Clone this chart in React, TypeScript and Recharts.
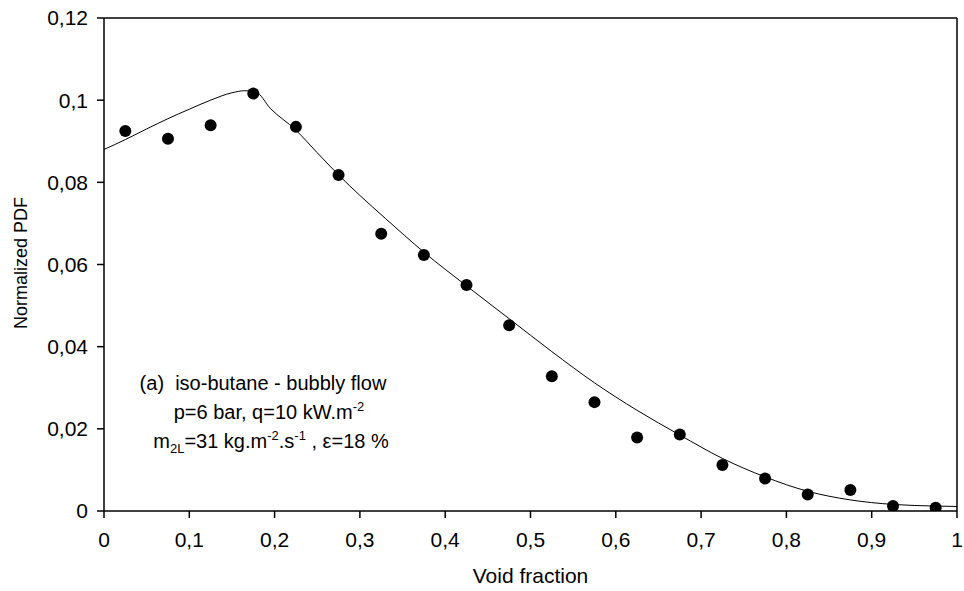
import React from 'react';
import {
  ComposedChart,
  Line,
  Scatter,
  XAxis,
  YAxis,
  ReferenceLine,
} from 'recharts';

// measured points
const pointX = [0.025, 0.075, 0.125, 0.175, 0.225, 0.275, 0.325, 0.375, 0.425, 0.475, 0.525, 0.575, 0.625, 0.675, 0.725, 0.775, 0.825, 0.875, 0.925, 0.975];
const pointY = [0.0925, 0.0906, 0.0939, 0.1016, 0.0935, 0.0818, 0.0675, 0.0623, 0.055, 0.0452, 0.0328, 0.0265, 0.0179, 0.0186, 0.0112, 0.0079, 0.004, 0.0051, 0.0012, 0.0008];

// fitted curve
const curveX = [0, 0.025, 0.05, 0.075, 0.1, 0.125, 0.15, 0.165, 0.178, 0.195, 0.225, 0.25, 0.275, 0.3, 0.33, 0.375, 0.425, 0.475, 0.525, 0.575, 0.625, 0.675, 0.725, 0.775, 0.825, 0.875, 0.925, 0.975, 1];
const curveY = [0.088, 0.0904, 0.093, 0.0955, 0.0978, 0.1, 0.1018, 0.1023, 0.102, 0.098, 0.0927, 0.0872, 0.0818, 0.0768, 0.0712, 0.063, 0.0548, 0.0468, 0.0388, 0.0312, 0.0245, 0.0185, 0.0128, 0.0083, 0.0048, 0.0027, 0.0016, 0.0012, 0.0011];

const xTicks = [0, 0.1, 0.2, 0.3, 0.4, 0.5, 0.6, 0.7, 0.8, 0.9, 1];
const yTicks = [0, 0.02, 0.04, 0.06, 0.08, 0.1, 0.12];

const points = pointX.map((x, i) => ({ x, y: pointY[i] }));
const curve = curveX.map((x, i) => ({ x, y: curveY[i] }));

const FONT = 'Arial, "Liberation Sans", sans-serif';
const fmt = (v: number) => String(v).replace('.', ',');
const small = { fontSize: 13, lineHeight: 0 };

export default function App() {
  return (
    <div style={{ position: 'absolute', left: 0, top: 0, width: 964, height: 591, background: '#fff', fontFamily: FONT }}>
      <ComposedChart
        width={964}
        height={591}
        margin={{ top: 18, right: 7, bottom: 0, left: 0 }}
        style={{ fontFamily: FONT }}
      >
        <XAxis
          dataKey="x"
          type="number"
          domain={[0, 1]}
          ticks={xTicks}
          tickFormatter={fmt}
          height={80}
          stroke="#000"
          strokeWidth={1.5}
          tickSize={7}
          tickMargin={14}
          tick={{ fill: '#000', fontSize: 21 }}
          allowDataOverflow
          label={{ value: 'Void fraction', position: 'insideBottom', offset: 8, fill: '#000', fontSize: 21 }}
        />
        <YAxis
          dataKey="y"
          type="number"
          domain={[0, 0.12]}
          ticks={yTicks}
          tickFormatter={fmt}
          width={104}
          stroke="#000"
          strokeWidth={1.5}
          tickSize={7}
          tickMargin={9}
          tick={{ fill: '#000', fontSize: 21 }}
          allowDataOverflow
          label={{
            content: () => (
              <text x={21} y={263} transform="rotate(-90 21 263)" textAnchor="middle" dominantBaseline="central" fill="#000" fontSize={18} fontFamily={FONT}>
                Normalized PDF
              </text>
            ),
          }}
        />
        <ReferenceLine y={0.12} stroke="#000" strokeWidth={1.5} />
        <ReferenceLine x={1} stroke="#000" strokeWidth={1.5} />
        <Line
          data={curve}
          dataKey="y"
          type="monotone"
          stroke="#000"
          strokeWidth={1}
          dot={false}
          activeDot={false}
          isAnimationActive={false}
        />
        <Scatter
          data={points}
          dataKey="y"
          fill="#000"
          isAnimationActive={false}
          shape={(p: any) => <circle cx={p.cx} cy={p.cy} r={6} fill="#000" />}
        />
      </ComposedChart>
      <div
        style={{
          position: 'absolute',
          left: 128,
          top: 369,
          width: 270,
          textAlign: 'center',
          fontSize: 20,
          lineHeight: '29px',
          color: '#000',
          whiteSpace: 'nowrap',
        }}
      >
        <div>(a)&nbsp; iso-butane - bubbly flow</div>
        <div style={{ paddingLeft: 12 }}>p=6 bar, q=10 kW.m<sup style={small}>-2</sup></div>
        <div style={{ paddingLeft: 16 }}>
          m<sub style={small}>2L</sub>=31 kg.m<sup style={small}>-2</sup>.s<sup style={small}>-1</sup> , ε=18 %
        </div>
      </div>
    </div>
  );
}
